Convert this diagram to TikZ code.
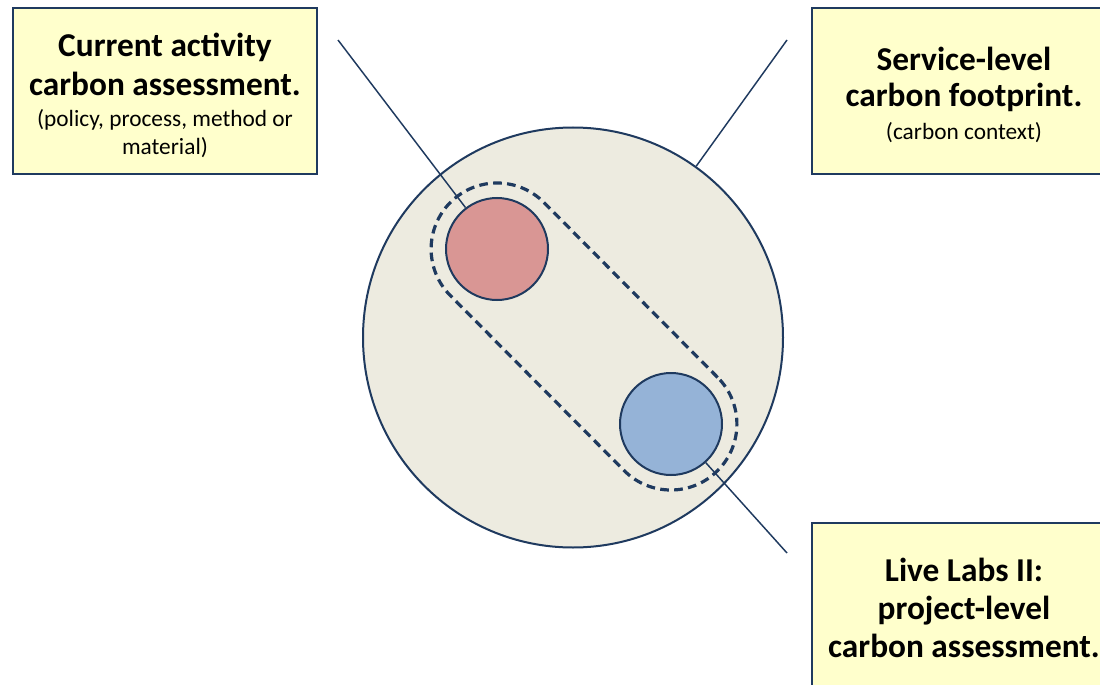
\documentclass[tikz,border=0pt]{standalone}
\usepackage{fontspec}
\setmainfont{Carlito}
\definecolor{navy}{HTML}{1F3A5F}
\definecolor{boxfill}{HTML}{FFFFCC}
\definecolor{bigfill}{HTML}{EDEBE0}
\definecolor{redfill}{HTML}{D99694}
\definecolor{bluefill}{HTML}{95B3D7}
\tikzset{
  labelbox/.style={draw=navy, line width=1.5pt, fill=boxfill, minimum width=228pt, minimum height=124.5pt, inner sep=0pt},
  ttl/.style={anchor=base, inner sep=0pt, font=\bfseries\fontsize{25}{30}\selectfont},
  sub/.style={anchor=base, inner sep=0pt, font=\fontsize{17.5}{21}\selectfont},
  disc/.style={circle, draw=navy, line width=1.5pt, minimum size=76.5pt, inner sep=0pt},
  conn/.style={draw=navy, line width=1.1pt},
}
\begin{document}
\begin{tikzpicture}[x=0.75pt, y=-0.75pt]
\clip (0,0) rectangle (1100,685);
\fill[white] (0,0) rectangle (1100,685);
% boxes
\node[labelbox] (b1) at (165,91) {};
\node[ttl] (b1t1) at (165,57) {Current activity};
\node[ttl] (b1t2) at (165,95) {carbon assessment.};
\node[sub] (b1s1) at (165,127) {(policy, process, method or};
\node[sub] (b1s2) at (165,154) {material)};
\node[labelbox] (b2) at (964,91) {};
\node[ttl] (b2t1) at (964,70) {Service-level};
\node[ttl] (b2t2) at (964,107) {carbon footprint.};
\node[sub] (b2s1) at (964,139) {(carbon context)};
\node[labelbox] (b3) at (964,606) {};
\node[ttl] (b3t1) at (964,581) {Live Labs II:};
\node[ttl] (b3t2) at (964,619) {project-level};
\node[ttl] (b3t3) at (964,657) {carbon assessment.};
% big circle
\node[circle, draw=navy, line width=1.5pt, fill=bigfill, minimum size=315pt, inner sep=0pt] (big) at (573,337.5) {};
% capsule
\node[draw=navy, line width=2.4pt, dash pattern=on 6.5pt off 4pt, rounded corners=49.5pt, minimum width=284pt, minimum height=99pt, rotate=-45.2, inner sep=0pt] (caps) at (584,336.5) {};
% discs
\node[disc, fill=redfill] (red) at (497,249) {};
\node[disc, fill=bluefill] (blue) at (671,424) {};
% connectors
\coordinate (p1) at (338,40);
\coordinate (p2) at (787,40);
\coordinate (p3) at (787,553);
\draw[conn] (p1) -- (red);
\draw[conn] (p2) -- (big);
\draw[conn] (p3) -- (blue);
\end{tikzpicture}
\end{document}
